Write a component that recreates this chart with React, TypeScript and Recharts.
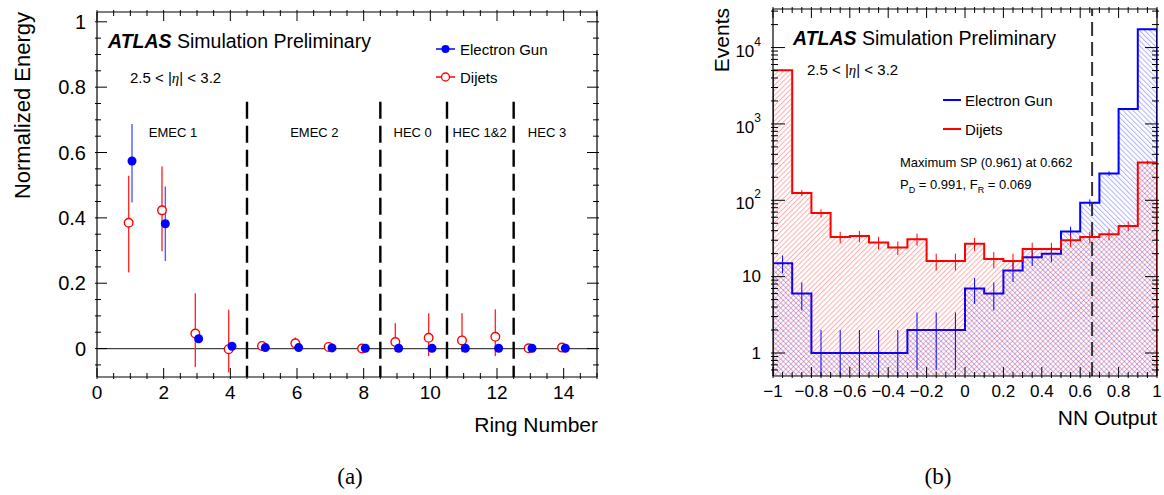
import React from 'react'
import { Area, ComposedChart, ErrorBar, ReferenceLine, Scatter, XAxis, YAxis } from 'recharts'

const SANS = '"Liberation Sans", Arial, Helvetica, sans-serif'
const SERIF = '"Liberation Serif", "DejaVu Serif", serif'

// (a) energy per ring
const rings = [1, 2, 3, 4, 5, 6, 7, 8, 9, 10, 11, 12, 13, 14]
const electronGunEnergy = [0.574, 0.382, 0.03, 0.007, 0.003, 0.003, 0.002, 0.001, 0.001, 0.001, 0.001, 0.001, 0.001, 0.001]
const electronGunErrLow = [0.127, 0.114, 0.004, 0.002, 0.001, 0.001, 0.001, 0.001, 0.001, 0.001, 0.001, 0.001, 0.001, 0.001]
const electronGunErrHigh = [0.113, 0.114, 0.004, 0.002, 0.001, 0.001, 0.001, 0.001, 0.001, 0.001, 0.001, 0.001, 0.001, 0.001]
const dijetsEnergy = [0.385, 0.423, 0.046, -0.002, 0.008, 0.016, 0.005, 0.0, 0.02, 0.033, 0.025, 0.036, 0.001, 0.003]
const dijetsErrLow = [0.152, 0.125, 0.103, 0.071, 0.004, 0.014, 0.004, 0.003, 0.03, 0.056, 0.036, 0.059, 0.003, 0.004]
const dijetsErrHigh = [0.144, 0.134, 0.123, 0.121, 0.004, 0.018, 0.004, 0.003, 0.058, 0.075, 0.083, 0.084, 0.003, 0.004]

const regionEdges = [4.5, 8.5, 10.5, 12.5]
const regionNames = ['EMEC 1', 'EMEC 2', 'HEC 0', 'HEC 1&2', 'HEC 3']
const regionCenters = [2.28, 6.52, 9.47, 11.48, 13.5]
const regionTop = 0.755
const regionLabelY = 0.662

const ringDomain = [0, 15]
const energyDomain = [-0.087, 1.03]
const ringTicks = [0, 2, 4, 6, 8, 10, 12, 14]
const ringMinorTicks = [0, 0.5, 1, 1.5, 2, 2.5, 3, 3.5, 4, 4.5, 5, 5.5, 6, 6.5, 7, 7.5, 8, 8.5, 9, 9.5, 10, 10.5, 11, 11.5, 12, 12.5, 13, 13.5, 14, 14.5, 15]
const energyTicks = [0, 0.2, 0.4, 0.6, 0.8, 1]
const energyMinorTicks = [-0.05, 0, 0.05, 0.1, 0.15, 0.2, 0.25, 0.3, 0.35, 0.4, 0.45, 0.5, 0.55, 0.6, 0.65, 0.7, 0.75, 0.8, 0.85, 0.9, 0.95, 1]

// (b) NN output histograms
const nnBinLow = [-1, -0.9, -0.8, -0.7, -0.6, -0.5, -0.4, -0.3, -0.2, -0.1, 0, 0.1, 0.2, 0.3, 0.4, 0.5, 0.6, 0.7, 0.8, 0.9]
const nnBinWidth = 0.1
const nnMax = 1
const electronGunCounts = [15, 6, 1, 1, 1, 1, 1, 2, 2, 2, 7, 6, 12, 18, 20, 39, 93, 224, 1570, 17400]
const electronGunCountErr = [3.9, 2.4, 1, 1, 1, 1, 1, 1.4, 1.4, 1.4, 2.6, 2.4, 3.5, 4.2, 4.5, 6.2, 9.6, 15, 40, 132]
const dijetCounts = [5060, 125, 68, 33, 34, 28, 24, 31, 16, 16, 27, 17, 16, 23, 23, 30, 33, 36, 46, 312]
const dijetCountErr = [71, 11, 8.2, 5.7, 5.8, 5.3, 4.9, 5.6, 4, 4, 5.2, 4.1, 4, 4.8, 4.8, 5.5, 5.7, 6, 6.8, 17.7]
const nnCut = 0.662

const eventsMin = 0.5
const eventsMax = 32000
const nnTicks = [-1, -0.8, -0.6, -0.4, -0.2, 0, 0.2, 0.4, 0.6, 0.8, 1]
const nnMinorTicks = [-1, -0.95, -0.9, -0.85, -0.8, -0.75, -0.7, -0.65, -0.6, -0.55, -0.5, -0.45, -0.4, -0.35, -0.3, -0.25, -0.2, -0.15, -0.1, -0.05, 0, 0.05, 0.1, 0.15, 0.2, 0.25, 0.3, 0.35, 0.4, 0.45, 0.5, 0.55, 0.6, 0.65, 0.7, 0.75, 0.8, 0.85, 0.9, 0.95, 1]
const eventDecades = [1, 10, 100, 1000, 10000]
const decadeSteps = [1, 2, 3, 4, 5, 6, 7, 8, 9]
const eventMinorTicks = [0.6, 0.7, 0.8, 0.9, ...eventDecades.flatMap((d) => decadeSteps.map((s) => d * s))].filter(
  (v) => v <= eventsMax,
)

// tables for the library
const dijetRows = rings.map((r, i) => ({ x: r - 0.05, y: dijetsEnergy[i], err: [dijetsErrLow[i], dijetsErrHigh[i]] }))
const electronRows = rings.map((r, i) => ({
  x: r + 0.05,
  y: electronGunEnergy[i],
  err: [electronGunErrLow[i], electronGunErrHigh[i]],
}))
const regionRows = regionNames.map((name, i) => ({ x: regionCenters[i], y: regionLabelY, name }))

const stepRows = [
  { x: nnBinLow[0], eg: eventsMin, dj: eventsMin },
  ...nnBinLow.map((x, i) => ({ x, eg: electronGunCounts[i], dj: dijetCounts[i] })),
  { x: nnMax, eg: eventsMin, dj: eventsMin },
]
const errRows = (counts: number[], errs: number[]) =>
  nnBinLow.map((x, i) => ({
    x: x + nnBinWidth / 2,
    y: counts[i],
    err: [Math.min(errs[i], counts[i] - eventsMin), errs[i]],
  }))
const electronErrRows = errRows(electronGunCounts, electronGunCountErr)
const dijetErrRows = errRows(dijetCounts, dijetCountErr)

const near = (a: number, b: number) => Math.abs(a - b) <= 1e-6 * Math.max(1, Math.abs(b))

type Side = 'bottom' | 'top' | 'left' | 'right'
const makeTick =
  (side: Side, majors: number[], majorLen: number, minorLen: number, label?: (v: number) => React.ReactNode, fontSize = 18, gap = 10) =>
  (props: any) => {
    const { x, y, payload } = props
    const v = payload.value
    const isMajor = majors.some((m) => near(v, m))
    const len = isMajor ? majorLen : minorLen
    let l = { x1: x, y1: y, x2: x, y2: y }
    if (side === 'bottom') l.y2 = y - len
    if (side === 'top') l.y2 = y + len
    if (side === 'left') l.x2 = x + len
    if (side === 'right') l.x2 = x - len
    return (
      <g>
        <line {...l} stroke="#000" strokeWidth={1} />
        {isMajor && label && side === 'bottom' && (
          <text x={x} y={y + gap} textAnchor="middle" fontFamily={SANS} fontSize={fontSize} fill="#000">
            {label(v)}
          </text>
        )}
        {isMajor && label && side === 'left' && (
          <text x={x - gap} y={y} textAnchor="end" dominantBaseline="central" fontFamily={SANS} fontSize={fontSize} fill="#000">
            {label(v)}
          </text>
        )}
      </g>
    )
  }

const plain = (v: number) => String(v).replace('-', '\u2212')
const powerLabel = (v: number) => {
  const p = Math.round(Math.log10(v))
  if (p < 2) return String(v)
  return (
    <>
      <tspan dy={3}>10</tspan>
      <tspan dy={-9} fontSize={12}>
        {p}
      </tspan>
    </>
  )
}

const FilledDot = (p: any) => <circle cx={p.cx} cy={p.cy} r={4.5} fill="#0000ff" />
const OpenDot = (p: any) => <circle cx={p.cx} cy={p.cy} r={4.3} fill="#fff" stroke="#ff0000" strokeWidth={1.4} />
const NoDot = () => <g />
const RegionLabel = (p: any) => (
  <text x={p.cx} y={p.cy} textAnchor="middle" dominantBaseline="central" fontFamily={SANS} fontSize={13} fill="#000">
    {p.payload.name}
  </text>
)

const frame = { stroke: '#000', strokeWidth: 1.2 }

const RingChart = () => (
  <ComposedChart width={620} height={440} margin={{ top: 11, right: 22, bottom: 62, left: 96 }}>
    <XAxis
      type="number"
      dataKey="x"
      domain={ringDomain}
      allowDataOverflow
      ticks={ringMinorTicks}
      interval={0}
      height={1}
      tickSize={0}
      tickLine={false}
      axisLine={frame}
      tick={makeTick('bottom', ringTicks, 11, 6, plain, 19, 20)}
    />
    <XAxis
      xAxisId="top"
      orientation="top"
      type="number"
      dataKey="x"
      domain={ringDomain}
      allowDataOverflow
      ticks={ringMinorTicks}
      interval={0}
      height={1}
      tickSize={0}
      tickLine={false}
      axisLine={frame}
      tick={makeTick('top', ringTicks, 11, 6)}
    />
    <YAxis
      type="number"
      dataKey="y"
      domain={energyDomain}
      allowDataOverflow
      ticks={energyMinorTicks}
      interval={0}
      width={1}
      tickSize={0}
      tickLine={false}
      axisLine={frame}
      tick={makeTick('left', energyTicks, 12, 6, plain, 20, 9)}
    />
    <YAxis
      yAxisId="right"
      orientation="right"
      type="number"
      dataKey="y"
      domain={energyDomain}
      allowDataOverflow
      ticks={energyMinorTicks}
      interval={0}
      width={1}
      tickSize={0}
      tickLine={false}
      axisLine={frame}
      tick={makeTick('right', energyTicks, 12, 6)}
    />
    <ReferenceLine y={0} stroke="#444" strokeWidth={1.3} />
    {regionEdges.map((e) => (
      <ReferenceLine
        key={e}
        segment={[
          { x: e, y: regionTop },
          { x: e, y: energyDomain[0] },
        ]}
        stroke="#000"
        strokeWidth={2.4}
        strokeDasharray="17 7"
      />
    ))}
    <Scatter data={regionRows} shape={RegionLabel} isAnimationActive={false} />
    <Scatter data={dijetRows} shape={OpenDot} isAnimationActive={false}>
      <ErrorBar dataKey="err" direction="y" width={0} stroke="#ff2a2a" strokeWidth={1.4} />
    </Scatter>
    <Scatter data={electronRows} shape={FilledDot} isAnimationActive={false}>
      <ErrorBar dataKey="err" direction="y" width={0} stroke="#4f5fff" strokeWidth={1.4} />
    </Scatter>
  </ComposedChart>
)

const NNChart = () => (
  <ComposedChart width={524} height={440} data={stepRows} margin={{ top: 8, right: 6, bottom: 63, left: 132 }}>
    <defs>
      <pattern id="hatchRed" patternUnits="userSpaceOnUse" width={3.6} height={3.6} patternTransform="rotate(45)">
        <line x1={0.5} y1={0} x2={0.5} y2={3.6} stroke="#ff0000" strokeOpacity={0.32} strokeWidth={1} />
      </pattern>
      <pattern id="hatchBlue" patternUnits="userSpaceOnUse" width={3.6} height={3.6} patternTransform="rotate(-45)">
        <line x1={0.5} y1={0} x2={0.5} y2={3.6} stroke="#0000ff" strokeOpacity={0.3} strokeWidth={1} />
      </pattern>
    </defs>
    <XAxis
      type="number"
      dataKey="x"
      domain={[-1, 1]}
      allowDataOverflow
      ticks={nnMinorTicks}
      interval={0}
      height={1}
      tickSize={0}
      tickLine={false}
      axisLine={frame}
      tick={makeTick('bottom', nnTicks, 11, 6, plain, 17, 19)}
    />
    <XAxis
      xAxisId="top"
      orientation="top"
      type="number"
      dataKey="x"
      domain={[-1, 1]}
      allowDataOverflow
      ticks={nnMinorTicks}
      interval={0}
      height={1}
      tickSize={0}
      tickLine={false}
      axisLine={frame}
      tick={makeTick('top', nnTicks, 11, 6)}
    />
    <YAxis
      type="number"
      dataKey="y"
      scale="log"
      domain={[eventsMin, eventsMax]}
      allowDataOverflow
      ticks={eventMinorTicks}
      interval={0}
      width={1}
      tickSize={0}
      tickLine={false}
      axisLine={frame}
      tick={makeTick('left', eventDecades, 14, 7, powerLabel, 17, 10)}
    />
    <YAxis
      yAxisId="right"
      orientation="right"
      type="number"
      dataKey="y"
      scale="log"
      domain={[eventsMin, eventsMax]}
      allowDataOverflow
      ticks={eventMinorTicks}
      interval={0}
      width={1}
      tickSize={0}
      tickLine={false}
      axisLine={frame}
      tick={makeTick('right', eventDecades, 14, 7)}
    />
    <Area
      type="stepAfter"
      dataKey="eg"
      baseValue={eventsMin}
      stroke="#0000ff"
      strokeWidth={2}
      fill="url(#hatchBlue)"
      fillOpacity={1}
      dot={false}
      activeDot={false}
      isAnimationActive={false}
    />
    <Area
      type="stepAfter"
      dataKey="dj"
      baseValue={eventsMin}
      stroke="#ff0000"
      strokeWidth={2}
      fill="url(#hatchRed)"
      fillOpacity={1}
      dot={false}
      activeDot={false}
      isAnimationActive={false}
    />
    <Scatter data={electronErrRows} shape={NoDot} isAnimationActive={false}>
      <ErrorBar dataKey="err" direction="y" width={0} stroke="#0000ff" strokeWidth={1} />
    </Scatter>
    <Scatter data={dijetErrRows} shape={NoDot} isAnimationActive={false}>
      <ErrorBar dataKey="err" direction="y" width={0} stroke="#ff0000" strokeWidth={1} />
    </Scatter>
    <ReferenceLine x={nnCut} stroke="#333" strokeWidth={2} strokeDasharray="14 6" />
  </ComposedChart>
)

const Annotations = () => (
  <svg width={1164} height={495} style={{ position: 'absolute', left: 0, top: 0, pointerEvents: 'none' }}>
    <g fontFamily={SANS} fill="#000">
      {/* panel (a) */}
      <text x={108} y={48} fontSize={19.5}>
        <tspan fontWeight="bold" fontStyle="italic">ATLAS</tspan> Simulation Preliminary
      </text>
      <text x={130} y={83} fontSize={15}>
        2.5 &lt; |<tspan fontFamily={SERIF} fontStyle="italic">η</tspan>| &lt; 3.2
      </text>
      <line x1={436} x2={455} y1={49} y2={49} stroke="#0000ff" strokeWidth={1.5} />
      <circle cx={445.5} cy={49} r={4} fill="#0000ff" />
      <text x={460} y={55} fontSize={15}>Electron Gun</text>
      <line x1={436} x2={455} y1={77} y2={77} stroke="#ff0000" strokeWidth={1.5} />
      <circle cx={445.5} cy={77} r={4} fill="#fff" stroke="#ff0000" strokeWidth={1.3} />
      <text x={460} y={83} fontSize={15}>Dijets</text>
      <text transform="translate(30 12) rotate(-90)" textAnchor="end" fontSize={22}>
        Normalized Energy
      </text>
      <text x={598} y={432} textAnchor="end" fontSize={21}>
        Ring Number
      </text>

      {/* panel (b) */}
      <text x={793} y={45} fontSize={19.5}>
        <tspan fontWeight="bold" fontStyle="italic">ATLAS</tspan> Simulation Preliminary
      </text>
      <text x={807} y={75} fontSize={15}>
        2.5 &lt; |<tspan fontFamily={SERIF} fontStyle="italic">η</tspan>| &lt; 3.2
      </text>
      <line x1={943} x2={961} y1={100} y2={100} stroke="#0000ff" strokeWidth={2} />
      <text x={965} y={106} fontSize={15}>Electron Gun</text>
      <line x1={943} x2={961} y1={129} y2={129} stroke="#ff0000" strokeWidth={2} />
      <text x={965} y={135} fontSize={15}>Dijets</text>
      <text x={900} y={167} fontSize={13}>Maximum SP (0.961) at 0.662</text>
      <text x={900} y={189} fontSize={13}>
        P<tspan fontSize={9} dy={4}>D</tspan>
        <tspan dy={-4}> = 0.991, F</tspan>
        <tspan fontSize={9} dy={4}>R</tspan>
        <tspan dy={-4}> = 0.069</tspan>
      </text>
      <text transform="translate(729 8) rotate(-90)" textAnchor="end" fontSize={21}>
        Events
      </text>
      <text x={1157} y={425} textAnchor="end" fontSize={21}>
        NN Output
      </text>
    </g>
    <text x={350} y={484} textAnchor="middle" fontFamily={SERIF} fontSize={23}>
      (a)
    </text>
    <text x={938} y={484} textAnchor="middle" fontFamily={SERIF} fontSize={23}>
      (b)
    </text>
  </svg>
)

export default function App() {
  return (
    <div style={{ position: 'absolute', left: 0, top: 0, width: 1164, height: 495, background: '#fff', overflow: 'hidden' }}>
      <div style={{ position: 'absolute', left: 0, top: 0 }}>
        <RingChart />
      </div>
      <div style={{ position: 'absolute', left: 640, top: 0 }}>
        <NNChart />
      </div>
      <Annotations />
    </div>
  )
}
